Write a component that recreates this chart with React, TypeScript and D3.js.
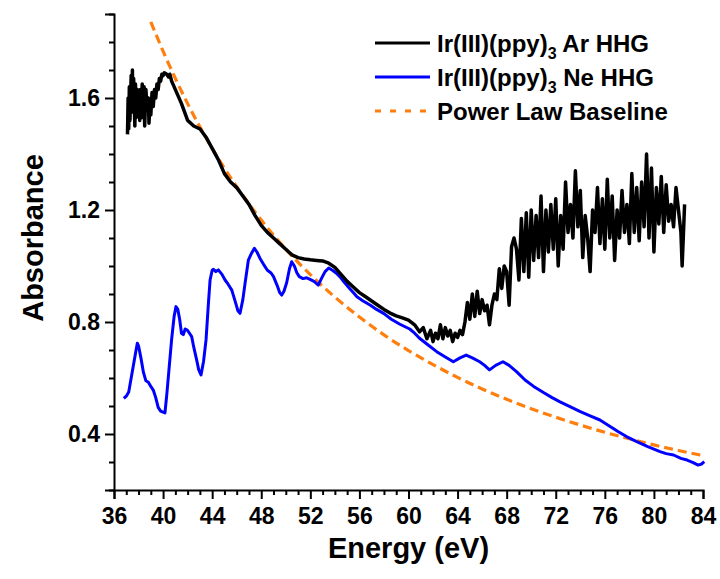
import React, { useEffect, useRef } from "react";
import * as d3 from "d3";

// Ir(III)(ppy)3 measured with Ar HHG source [energy eV, absorbance]
const arHHG: [number, number][] = [
  [37.1, 1.47], [37.15, 1.6], [37.2, 1.49], [37.25, 1.64], [37.3, 1.52], [37.4, 1.68], [37.45, 1.56],
  [37.5, 1.7], [37.55, 1.55], [37.6, 1.67], [37.7, 1.5], [37.75, 1.65], [37.8, 1.53], [37.9, 1.63],
  [37.95, 1.55], [38.0, 1.61], [38.1, 1.52], [38.15, 1.63], [38.2, 1.55], [38.3, 1.65], [38.35, 1.53],
  [38.45, 1.64], [38.5, 1.5], [38.6, 1.63], [38.7, 1.56], [38.8, 1.6], [38.85, 1.51], [38.95, 1.59],
  [39.0, 1.54], [39.1, 1.62], [39.2, 1.57], [39.3, 1.63], [39.4, 1.6], [39.5, 1.65], [39.6, 1.63],
  [39.7, 1.67], [39.8, 1.66], [39.9, 1.685], [40.0, 1.68], [40.1, 1.69], [40.3, 1.685], [40.45, 1.675],
  [40.55, 1.685], [40.7, 1.66], [40.85, 1.645], [41.0, 1.63], [41.5, 1.58], [42.0, 1.52], [42.5, 1.5],
  [43.0, 1.49], [43.5, 1.46], [44.0, 1.42], [44.5, 1.38], [45.0, 1.33], [45.5, 1.3], [46.0, 1.28],
  [46.5, 1.25], [47.0, 1.22], [47.5, 1.18], [48.0, 1.145], [48.5, 1.12], [49.0, 1.1], [49.5, 1.08],
  [50.0, 1.06], [50.5, 1.04], [51.0, 1.03], [51.5, 1.025], [52.0, 1.022], [52.5, 1.02], [53.0, 1.018],
  [53.5, 1.01], [54.0, 0.995], [54.5, 0.97], [55.0, 0.945], [55.5, 0.925], [56.0, 0.905], [56.5, 0.89],
  [57.0, 0.875], [57.5, 0.86], [58.0, 0.845], [58.5, 0.832], [59.0, 0.822], [59.5, 0.815], [60.0, 0.807],
  [60.5, 0.79], [60.9, 0.765], [61.2, 0.78], [61.5, 0.74], [61.8, 0.77], [62.0, 0.73], [62.2, 0.76],
  [62.4, 0.74], [62.6, 0.79], [62.8, 0.74], [63.0, 0.78], [63.2, 0.75], [63.4, 0.77], [63.6, 0.73],
  [63.8, 0.76], [64.0, 0.745], [64.2, 0.77], [64.4, 0.755], [64.6, 0.8], [64.8, 0.87], [65.0, 0.81],
  [65.2, 0.9], [65.4, 0.82], [65.6, 0.91], [65.8, 0.83], [66.0, 0.88], [66.2, 0.84], [66.4, 0.86],
  [66.6, 0.79], [66.8, 0.86], [67.0, 0.9], [67.2, 0.88], [67.4, 0.99], [67.6, 0.92], [67.8, 1.0],
  [68.0, 0.98], [68.2, 0.86], [68.4, 1.07], [68.6, 1.1], [68.8, 1.06], [69.0, 0.95], [69.2, 1.17],
  [69.4, 0.98], [69.6, 1.19], [69.8, 0.96], [70.0, 1.2], [70.2, 1.02], [70.4, 1.18], [70.6, 1.03],
  [70.8, 1.25], [71.0, 0.98], [71.2, 1.2], [71.4, 1.05], [71.6, 1.22], [71.8, 1.06], [72.0, 1.24],
  [72.2, 1.0], [72.4, 1.18], [72.6, 1.06], [72.8, 1.3], [73.0, 1.12], [73.2, 1.22], [73.4, 1.1],
  [73.6, 1.34], [73.8, 1.14], [74.0, 1.27], [74.2, 1.03], [74.4, 1.18], [74.6, 1.1], [74.8, 0.98],
  [75.0, 1.2], [75.2, 1.12], [75.4, 1.28], [75.6, 1.08], [75.8, 1.24], [76.0, 1.06], [76.2, 1.31],
  [76.4, 1.1], [76.6, 1.25], [76.8, 1.02], [77.0, 1.2], [77.2, 1.1], [77.4, 1.27], [77.6, 1.12],
  [77.8, 1.22], [78.0, 1.08], [78.2, 1.33], [78.4, 1.12], [78.6, 1.28], [78.8, 1.09], [79.0, 1.3],
  [79.2, 1.14], [79.4, 1.4], [79.6, 1.1], [79.8, 1.35], [80.0, 1.05], [80.2, 1.28], [80.4, 1.15],
  [80.6, 1.32], [80.8, 1.12], [81.0, 1.29], [81.2, 1.16], [81.4, 1.22], [81.6, 1.14], [81.8, 1.28],
  [82.0, 1.2], [82.2, 1.12], [82.3, 1.0], [82.5, 1.22],
];

// Ir(III)(ppy)3 measured with Ne HHG source
const neHHG: [number, number][] = [
  [36.8, 0.527], [37.0, 0.535], [37.2, 0.55], [37.4, 0.6], [37.6, 0.65], [37.8, 0.7], [37.9, 0.724],
  [38.0, 0.715], [38.2, 0.67], [38.4, 0.62], [38.6, 0.59], [38.8, 0.585], [39.0, 0.57], [39.2, 0.557],
  [39.4, 0.53], [39.6, 0.495], [39.8, 0.482], [40.0, 0.478], [40.15, 0.475], [40.3, 0.54], [40.5, 0.64],
  [40.7, 0.74], [40.9, 0.82], [41.05, 0.855], [41.2, 0.845], [41.35, 0.81], [41.5, 0.76], [41.65, 0.755],
  [41.8, 0.775], [41.97, 0.771], [42.15, 0.76], [42.33, 0.748], [42.5, 0.71], [42.74, 0.664], [42.9, 0.63],
  [43.09, 0.611], [43.3, 0.66], [43.5, 0.736], [43.7, 0.87], [43.83, 0.95], [44.0, 0.985], [44.1, 0.988],
  [44.3, 0.98], [44.5, 0.986], [44.8, 0.97], [45.05, 0.95], [45.3, 0.935], [45.6, 0.914], [45.9, 0.87],
  [46.1, 0.84], [46.27, 0.831], [46.5, 0.88], [46.68, 0.938], [46.95, 1.021], [47.2, 1.045], [47.44, 1.063],
  [47.65, 1.05], [47.9, 1.027], [48.2, 1.005], [48.5, 0.985], [48.8, 0.975], [49.0, 0.962], [49.3, 0.93],
  [49.5, 0.905], [49.67, 0.896], [49.85, 0.91], [50.07, 0.94], [50.3, 0.99], [50.48, 1.015], [50.7, 1.0],
  [50.9, 0.976], [51.1, 0.962], [51.4, 0.955], [51.7, 0.958], [51.97, 0.952], [52.3, 0.945], [52.65, 0.932],
  [52.9, 0.955], [53.2, 0.98], [53.5, 0.993], [53.8, 0.985], [54.1, 0.975], [54.4, 0.962], [54.8, 0.94],
  [55.2, 0.92], [55.5, 0.905], [55.8, 0.89], [56.3, 0.875], [56.9, 0.86], [57.4, 0.845], [58.0, 0.83],
  [58.6, 0.81], [59.3, 0.792], [60.1, 0.775], [60.5, 0.76], [60.9, 0.742], [61.6, 0.718], [62.3, 0.694],
  [63.0, 0.675], [63.65, 0.658], [64.2, 0.672], [64.7, 0.682], [65.2, 0.672], [65.8, 0.658], [66.2, 0.645],
  [66.6, 0.629], [67.1, 0.645], [67.7, 0.658], [68.2, 0.645], [68.8, 0.623], [69.5, 0.593], [70.2, 0.57],
  [71.0, 0.548], [71.7, 0.53], [72.35, 0.515], [73.2, 0.497], [74.0, 0.48], [74.8, 0.465], [75.6, 0.45],
  [76.4, 0.428], [77.1, 0.408], [77.8, 0.39], [78.6, 0.373], [79.5, 0.355], [80.5, 0.337], [81.0, 0.33],
  [81.6, 0.325], [82.2, 0.313], [82.7, 0.307], [83.2, 0.298], [83.6, 0.289], [83.9, 0.293], [84.1, 0.301],
];

// power law baseline
const baseline: [number, number][] = [
  [39, 1.872], [40, 1.767], [42, 1.58], [44, 1.42], [46, 1.283], [48, 1.164], [50, 1.06], [52, 0.969],
  [54, 0.889], [56, 0.818], [58, 0.754], [60, 0.698], [62, 0.648], [64, 0.602], [66, 0.561], [68, 0.524],
  [70, 0.49], [72, 0.46], [74, 0.432], [76, 0.406], [78, 0.383], [80, 0.361], [82, 0.341], [84, 0.323],
];

const xMajor = [36, 40, 44, 48, 52, 56, 60, 64, 68, 72, 76, 80, 84];
const yMajor = [0.4, 0.8, 1.2, 1.6];

const legendItems = [
  { name: "Ir(III)(ppy)", sub: "3", rest: " Ar HHG", color: "#000000", dash: "" },
  { name: "Ir(III)(ppy)", sub: "3", rest: " Ne HHG", color: "#0000ff", dash: "" },
  { name: "Power Law Baseline", sub: "", rest: "", color: "#ff7f0e", dash: "6 9" },
];

const W = 720, H = 579;
const font = "Arial, 'Liberation Sans', sans-serif";

export default function App() {
  const ref = useRef<SVGSVGElement>(null);

  useEffect(() => {
    const svg = d3.select(ref.current);
    svg.selectAll("*").remove();

    const x = d3.scaleLinear().domain([36, 84]).range([114, 703]);
    const y = d3.scaleLinear().domain([0.2, 1.9]).range([490, 14]);

    // x axis
    const xMinor = d3.range(36, 85, 1).filter((d) => d % 4 !== 0);
    const gx = svg.append("g").attr("transform", `translate(0,${y(0.2)})`);
    gx.call(d3.axisBottom(x).tickValues(xMinor).tickSize(5).tickFormat(() => ""));
    gx.call((g) => g.select(".domain").remove());
    const gx2 = svg.append("g").attr("transform", `translate(0,${y(0.2)})`);
    gx2.call(d3.axisBottom(x).tickValues(xMajor).tickSize(9).tickPadding(9).tickFormat(d3.format("d")));
    gx2.selectAll("text").attr("font-size", 23).attr("font-weight", "bold").attr("font-family", font).attr("fill", "#000");

    // y axis
    const yMinor = d3.range(2, 20, 1).map((d) => d / 10).filter((d) => Math.round(d * 10) % 4 !== 0);
    const gy = svg.append("g").attr("transform", `translate(${x(36)},0)`);
    gy.call(d3.axisLeft(y).tickValues(yMinor).tickSize(5).tickFormat(() => ""));
    gy.call((g) => g.select(".domain").remove());
    const gy2 = svg.append("g").attr("transform", `translate(${x(36)},0)`);
    gy2.call(d3.axisLeft(y).tickValues(yMajor).tickSize(9).tickPadding(5).tickFormat(d3.format(".1f")));
    gy2.selectAll("text").attr("font-size", 23).attr("font-weight", "bold").attr("font-family", font).attr("fill", "#000");

    svg.selectAll(".tick line").attr("stroke", "#000").attr("stroke-width", 2);
    svg.selectAll(".domain").attr("stroke", "#000").attr("stroke-width", 2);

    const line = d3.line<[number, number]>().x((d) => x(d[0])).y((d) => y(d[1]));

    svg.append("path").datum(baseline)
      .attr("d", line.curve(d3.curveMonotoneX))
      .attr("fill", "none").attr("stroke", "#ff7f0e").attr("stroke-width", 3.2)
      .attr("stroke-dasharray", "9 5");

    line.curve(d3.curveLinear);
    svg.append("path").datum(neHHG)
      .attr("d", line)
      .attr("fill", "none").attr("stroke", "#0000ff").attr("stroke-width", 3)
      .attr("stroke-linejoin", "round");

    svg.append("path").datum(arHHG)
      .attr("d", line)
      .attr("fill", "none").attr("stroke", "#000").attr("stroke-width", 3.5)
      .attr("stroke-linejoin", "round");

    // axis titles
    svg.append("text").attr("x", (x(36) + x(84)) / 2).attr("y", 558)
      .attr("text-anchor", "middle").attr("font-size", 29).attr("font-weight", "bold")
      .attr("font-family", font).text("Energy (eV)");
    svg.append("text").attr("transform", `translate(43,238) rotate(-90)`)
      .attr("text-anchor", "middle").attr("font-size", 29).attr("font-weight", "bold")
      .attr("font-family", font).text("Absorbance");

    // legend
    const lg = svg.append("g");
    legendItems.forEach((it, i) => {
      const yy = 43 + i * 34;
      lg.append("line").attr("x1", 375).attr("x2", 430).attr("y1", yy).attr("y2", yy)
        .attr("stroke", it.color).attr("stroke-width", 3).attr("stroke-dasharray", it.dash);
      const t = lg.append("text").attr("x", 437).attr("y", yy + 8.5)
        .attr("font-size", 24).attr("font-weight", "bold").attr("font-family", font);
      t.append("tspan").text(it.name);
      if (it.sub) {
        t.append("tspan").attr("font-size", 16).attr("dy", 7).text(it.sub);
        t.append("tspan").attr("dy", -7).text(it.rest);
      }
    });
  }, []);

  return (
    <svg ref={ref} width={W} height={H}
      style={{ position: "absolute", left: 0, top: 0, background: "#fff" }} />
  );
}
